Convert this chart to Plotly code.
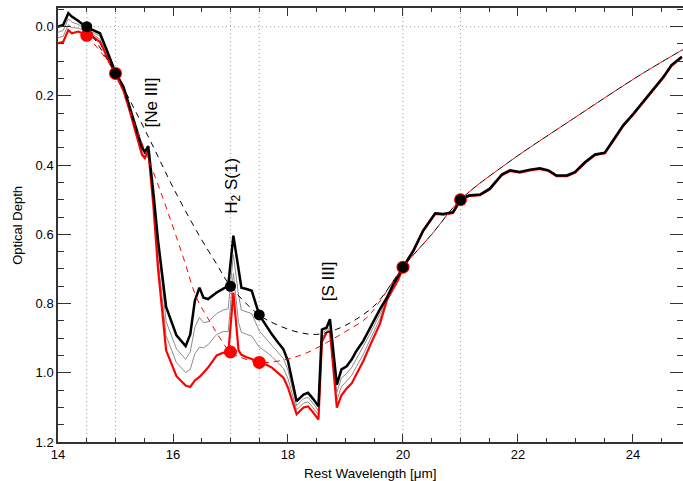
import plotly.graph_objects as go

# spectra (rest wavelength in micron, optical depth)
wave = [14.0, 14.09, 14.18, 14.24, 14.35, 14.5, 14.61, 14.73, 14.85, 15.0,
        15.14, 15.25, 15.37, 15.46, 15.51, 15.57, 15.66, 15.74, 15.88, 16.06,
        16.22, 16.30, 16.38, 16.46, 16.53, 16.61, 16.76, 16.87, 16.96, 17.05,
        17.14, 17.19, 17.28, 17.37, 17.5, 17.6, 17.72, 17.83, 17.92, 18.0,
        18.06, 18.15, 18.27, 18.35, 18.44, 18.53, 18.59, 18.67, 18.73, 18.85,
        18.93, 19.02, 19.11, 19.19, 19.31, 19.43, 19.6, 19.72, 19.83, 19.92,
        20.0, 20.18, 20.35, 20.56, 20.7, 20.87, 21.0, 21.14, 21.34, 21.51,
        21.72, 21.86, 22.03, 22.21, 22.38, 22.53, 22.67, 22.85, 22.99, 23.17,
        23.34, 23.51, 23.66, 23.83, 24.01, 24.18, 24.35, 24.53, 24.67, 24.85]

tau_black = [0.0, -0.005, -0.039, -0.029, -0.017, 0.002, 0.010, 0.019, 0.068, 0.133,
             0.174, 0.232, 0.300, 0.348, 0.362, 0.345, 0.482, 0.618, 0.810, 0.892,
             0.923, 0.889, 0.792, 0.754, 0.783, 0.787, 0.768, 0.758, 0.749, 0.604,
             0.696, 0.754, 0.758, 0.763, 0.833, 0.860, 0.889, 0.913, 0.932, 0.966,
             1.014, 1.082, 1.063, 1.058, 1.076, 1.097, 0.875, 0.870, 0.845, 1.034,
             0.990, 0.981, 0.961, 0.937, 0.908, 0.870, 0.816, 0.783, 0.744, 0.720,
             0.695, 0.647, 0.589, 0.539, 0.541, 0.536, 0.500, 0.488, 0.485, 0.468,
             0.427, 0.415, 0.420, 0.413, 0.409, 0.415, 0.430, 0.430, 0.420, 0.391,
             0.369, 0.364, 0.328, 0.285, 0.251, 0.217, 0.183, 0.145, 0.111, 0.087]

tau_red = [0.048, 0.044, 0.010, 0.019, 0.014, 0.022, 0.030, 0.044, 0.085, 0.135,
           0.185, 0.245, 0.318, 0.370, 0.380, 0.357, 0.520, 0.700, 0.935, 1.010,
           1.037, 1.041, 1.022, 1.012, 1.000, 0.985, 0.950, 0.942, 0.947, 0.768,
           0.935, 0.948, 0.955, 0.960, 0.972, 0.975, 0.985, 1.000, 1.014, 1.043,
           1.075, 1.120, 1.100, 1.097, 1.115, 1.135, 0.910, 0.884, 0.879, 1.101,
           1.065, 1.045, 1.030, 1.005, 0.966, 0.920, 0.858, 0.790, 0.755, 0.730,
           0.697, 0.649, 0.591, 0.541, 0.543, 0.538, 0.502, 0.490, 0.487, 0.470,
           0.429, 0.417, 0.422, 0.415, 0.411, 0.417, 0.432, 0.432, 0.422, 0.393,
           0.371, 0.366, 0.330, 0.287, 0.253, 0.219, 0.185, 0.147, 0.113, 0.089]

# intermediate spectra (only up to 20 micron, they merge afterwards)
tau_grey1 = [0.016, 0.011, -0.023, -0.013, -0.007, 0.009, 0.017, 0.027, 0.074, 0.134,
             0.178, 0.236, 0.306, 0.355, 0.368, 0.349, 0.495, 0.645, 0.852, 0.931,
             0.961, 0.940, 0.869, 0.840, 0.855, 0.853, 0.829, 0.819, 0.815, 0.659,
             0.776, 0.819, 0.824, 0.829, 0.879, 0.898, 0.921, 0.942, 0.959, 0.992,
             1.034, 1.095, 1.075, 1.071, 1.089, 1.110, 0.887, 0.875, 0.856, 1.056,
             1.015, 1.002, 0.984, 0.960, 0.927, 0.887, 0.830, 0.785, 0.748, 0.723,
             0.696]
tau_grey2 = [0.032, 0.028, -0.006, 0.003, 0.004, 0.015, 0.023, 0.036, 0.079, 0.134,
             0.181, 0.241, 0.312, 0.363, 0.374, 0.353, 0.507, 0.673, 0.893, 0.971,
             0.999, 0.990, 0.945, 0.926, 0.928, 0.919, 0.889, 0.881, 0.881, 0.713,
             0.855, 0.883, 0.889, 0.894, 0.926, 0.937, 0.953, 0.971, 0.987, 1.017,
             1.054, 1.107, 1.088, 1.084, 1.102, 1.122, 0.898, 0.879, 0.868, 1.079,
             1.040, 1.024, 1.007, 0.982, 0.947, 0.903, 0.844, 0.788, 0.751, 0.727,
             0.696]

# continuum fits
cont_black_x = [14.5, 15.0, 15.31, 15.66, 16.0, 16.44, 16.76, 17.0, 17.5, 17.86,
                18.21, 18.5, 18.85, 19.19, 19.54, 20.0, 20.5, 21.0, 21.8, 22.96,
                24.12, 24.87]
cont_black_y = [0.0, 0.135, 0.232, 0.348, 0.464, 0.599, 0.686, 0.75, 0.833, 0.865,
                0.884, 0.889, 0.874, 0.845, 0.80, 0.695, 0.60, 0.5, 0.396, 0.266,
                0.14, 0.066]
cont_red_x = [14.5, 15.0, 15.34, 15.77, 16.18, 16.41, 16.67, 16.85, 17.0, 17.5,
              17.98, 18.33, 18.67, 19.02, 19.37, 19.57, 20.0, 20.5, 21.0, 21.8,
              22.96, 24.12, 24.87]
cont_red_y = [0.025, 0.135, 0.285, 0.47, 0.667, 0.783, 0.86, 0.908, 0.94, 0.97,
              0.961, 0.942, 0.913, 0.879, 0.841, 0.80, 0.695, 0.60, 0.5, 0.396,
              0.266, 0.14, 0.066]

# anchor points
pts_x = [14.5, 15.0, 17.0, 17.5, 20.0, 21.0]
pts_black = [0.0, 0.135, 0.75, 0.833, 0.695, 0.5]
pts_red = [0.025, 0.135, 0.94, 0.97, 0.695, 0.5]

guide_x = [14.5, 15.0, 17.0, 17.5, 20.0, 21.0]

FONT = 'Liberation Sans, Arial, sans-serif'
AXC = '#333333'

fig = go.Figure()

for g in (tau_grey1, tau_grey2):
    fig.add_trace(go.Scatter(x=wave[:len(g)], y=g, mode='lines',
                             line=dict(color='#8c8c8c', width=1)))
fig.add_trace(go.Scatter(x=wave, y=tau_red, mode='lines',
                         line=dict(color='red', width=2.2)))
fig.add_trace(go.Scatter(x=wave, y=tau_black, mode='lines',
                         line=dict(color='black', width=2.5)))

fig.add_trace(go.Scatter(x=cont_red_x, y=cont_red_y, mode='lines',
                         line=dict(color='red', width=1, dash='6px,5px', shape='spline')))
fig.add_trace(go.Scatter(x=cont_black_x, y=cont_black_y, mode='lines',
                         line=dict(color='black', width=1, dash='6px,5px', shape='spline')))

fig.add_trace(go.Scatter(x=pts_x, y=pts_red, mode='markers',
                         marker=dict(color='red', size=13, line=dict(width=0))))
fig.add_trace(go.Scatter(x=pts_x, y=pts_black, mode='markers',
                         marker=dict(color='black', size=11, line=dict(width=0))))

for gx in guide_x:
    fig.add_shape(type='line', x0=gx, x1=gx, y0=0, y1=1, xref='x', yref='paper',
                  line=dict(color='#9a9a9a', width=1, dash='1px,3px'), layer='below')
fig.add_shape(type='line', x0=0, x1=1, y0=0, y1=0, xref='paper', yref='y',
              line=dict(color='#9a9a9a', width=1, dash='1px,3px'), layer='below')

labels = [('[Ne III]', 15.63, 0.22), ('H<sub>2</sub> S(1)', 17.04, 0.46),
          ('[S III]', 18.70, 0.735)]
for txt, lx, ly in labels:
    fig.add_annotation(x=lx, y=ly, text=txt, textangle=-90, showarrow=False,
                       font=dict(family=FONT, size=17, color='black'))

# axis titles
fig.add_annotation(x=0.5, y=-0.072, xref='paper', yref='paper', yanchor='middle',
                   text='Rest Wavelength [μm]', showarrow=False,
                   font=dict(family=FONT, size=13.5, color='black'))
fig.add_annotation(x=-0.066, y=0.5, xref='paper', yref='paper', xanchor='center',
                   text='Optical Depth', textangle=-90, showarrow=False,
                   font=dict(family=FONT, size=13, color='black'))

fig.update_layout(
    width=683, height=481,
    margin=dict(l=58, r=0, t=8, b=39),
    plot_bgcolor='white', paper_bgcolor='white',
    showlegend=False,
    font=dict(family=FONT, size=13, color='black'),
)
fig.update_xaxes(
    range=[14, 24.87], tickvals=[14, 16, 18, 20, 22, 24], automargin=False,
    ticks='inside', ticklen=8, tickwidth=1, tickcolor=AXC,
    minor=dict(dtick=0.5, ticks='inside', ticklen=4, tickcolor=AXC),
    showline=True, linecolor=AXC, linewidth=1.5, mirror='allticks',
    showgrid=False, zeroline=False,
)
fig.update_yaxes(
    range=[1.2, -0.054], tickvals=[0.0, 0.2, 0.4, 0.6, 0.8, 1.0, 1.2], automargin=False,
    ticktext=['0.0', '0.2', '0.4', '0.6', '0.8', '1.0', '1.2'],
    ticks='inside', ticklen=13, tickwidth=1, tickcolor=AXC,
    minor=dict(dtick=0.05, ticks='inside', ticklen=6, tickcolor=AXC),
    showline=True, linecolor=AXC, linewidth=1.5, mirror='allticks',
    showgrid=False, zeroline=False,
)

# page has a default body margin; drop it so the figure sits at the window corner
fig.write_html("out.html", config={'displayModeBar': False},
               post_script="document.body.style.margin='0';")
